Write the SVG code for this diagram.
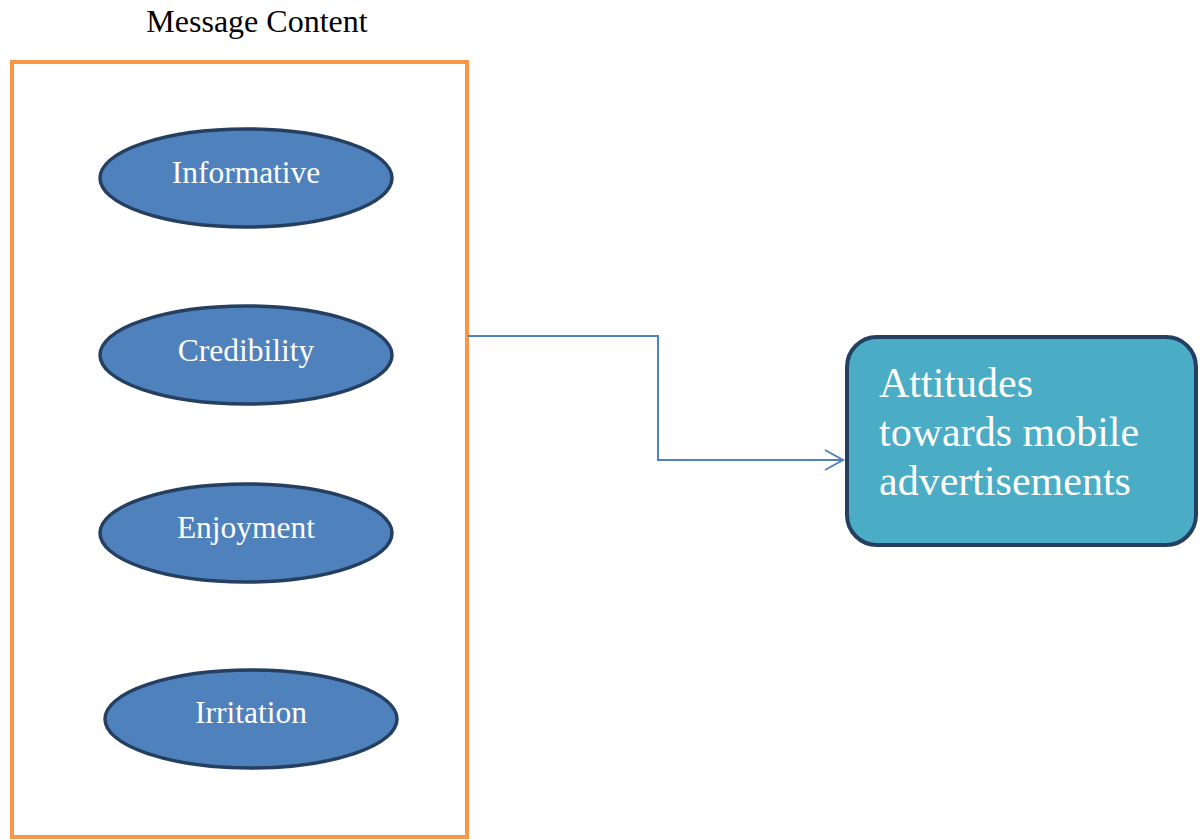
<svg xmlns="http://www.w3.org/2000/svg" width="1200" height="840" viewBox="0 0 1200 840">
<style>
.t{font-family:"Liberation Serif","Times New Roman",serif;}
.ell{fill:#4F81BD;stroke:#243F60;stroke-width:3.5;}
.el{fill:#fff;font-size:31.5px;text-anchor:middle;}
.conn{fill:none;stroke:#4F81BD;stroke-width:2;}
</style>
<rect width="1200" height="840" fill="#fff"/>
<g id="title"><text class="t" x="257" y="32" font-size="32" text-anchor="middle" fill="#000">Message Content</text></g>
<g id="group-box"><rect x="12" y="62" width="455" height="775" fill="none" stroke="#F79646" stroke-width="4"/></g>
<g id="informative"><ellipse class="ell" cx="246" cy="178" rx="146" ry="49"/><text class="t el" x="246" y="183">Informative</text></g>
<g id="credibility"><ellipse class="ell" cx="246" cy="355" rx="146" ry="49"/><text class="t el" x="246" y="361">Credibility</text></g>
<g id="enjoyment"><ellipse class="ell" cx="246" cy="533" rx="146" ry="49"/><text class="t el" x="246" y="538">Enjoyment</text></g>
<g id="irritation"><ellipse class="ell" cx="251" cy="719" rx="146" ry="49"/><text class="t el" x="251" y="723">Irritation</text></g>
<g id="connectors"><polyline class="conn" points="468,336 658,336 658,460 843,460"/><polyline class="conn" points="825,450 843,460 825,470"/></g>
<g id="attitudes"><rect x="847" y="337" width="349" height="208" rx="30" fill="#4BACC6" stroke="#243F60" stroke-width="4"/>
<text class="t" font-size="42" fill="#fff"><tspan x="879" y="397">Attitudes</tspan><tspan x="879" y="446">towards mobile</tspan><tspan x="879" y="495">advertisements</tspan></text></g>
</svg>
